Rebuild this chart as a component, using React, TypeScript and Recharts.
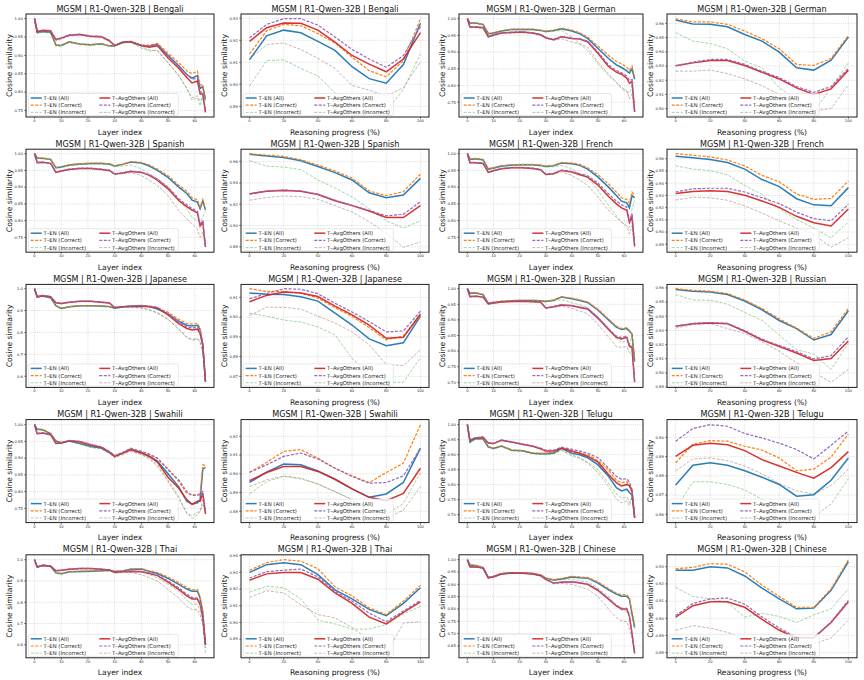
import React from 'react';
import { LineChart, Line, XAxis, YAxis, CartesianGrid } from 'recharts';

// ---- x positions ----
const LAYERS = [0, 1, 3, 6, 8, 10, 13, 17, 21, 25, 28, 30, 33, 36, 40, 43, 46, 50, 54, 57, 59, 61, 62, 63, 64];
const PROGRESS = [0, 10, 20, 30, 40, 50, 60, 70, 80, 90, 100];
const LAYER_TICKS = [0, 10, 20, 30, 40, 50, 60];
const PROGRESS_TICKS = [0, 20, 40, 60, 80, 100];

// Series order in every block: T-EN (All), T-EN (Correct), T-EN (Incorrect),
// T-AvgOthers (All), T-AvgOthers (Correct), T-AvgOthers (Incorrect)
const SERIES_NAMES = [
  'T–EN (All)', 'T–EN (Correct)', 'T–EN (Incorrect)',
  'T–AvgOthers (All)', 'T–AvgOthers (Correct)', 'T–AvgOthers (Incorrect)',
];

const LANGUAGES = ['Bengali', 'German', 'Spanish', 'French', 'Japanese', 'Russian', 'Swahili', 'Telugu', 'Thai', 'Chinese'];

// ---- Bengali ----
const BN_LAYER = [
  [1.0, .962, .965, .963, .928, .927, .937, .931, .929, .932, .926, .926, .935, .937, .927, .925, .93, .9, .872, .848, .838, .845, .81, .815, .78],
  [1.0, .963, .966, .964, .928, .927, .937, .931, .929, .932, .926, .926, .936, .937, .928, .928, .933, .906, .88, .858, .85, .857, .82, .82, .783],
  [1.0, .96, .963, .961, .925, .925, .935, .929, .927, .93, .924, .925, .934, .935, .92, .912, .915, .88, .845, .81, .778, .785, .763, .79, .775],
  [1.0, .965, .968, .967, .943, .947, .955, .957, .952, .951, .94, .927, .936, .938, .927, .922, .926, .893, .865, .84, .825, .83, .795, .795, .745],
  [1.0, .966, .969, .968, .944, .948, .956, .958, .953, .952, .941, .927, .937, .938, .928, .925, .93, .9, .87, .848, .835, .838, .8, .8, .75],
  [1.0, .963, .966, .964, .94, .944, .953, .955, .95, .948, .938, .926, .935, .936, .924, .915, .912, .88, .845, .81, .785, .79, .775, .785, .75],
];
const BN_PROG = [
  [.9112, .922, .9246, .9234, .9195, .9154, .908, .9026, .9005, .909, .9277],
  [.9138, .9243, .9272, .9266, .923, .9188, .9123, .9062, .9034, .9108, .9297],
  [.8992, .9108, .9111, .9072, .9038, .8962, .888, .8873, .8875, .8977, .9138],
  [.9195, .9257, .9278, .9277, .9246, .9192, .9131, .9092, .9057, .9115, .9235],
  [.9211, .9272, .9298, .9298, .9269, .9215, .9158, .9115, .9077, .9131, .9262],
  [.9115, .918, .9188, .9158, .9118, .9072, .8995, .8974, .8946, .8985, .9103],
];

// ---- German ----
const DE_LAYER = [
  [1.0, .987, .987, .983, .955, .957, .963, .968, .968, .968, .965, .962, .965, .97, .963, .955, .941, .911, .881, .862, .854, .844, .837, .85, .819],
  [1.0, .988, .988, .984, .956, .958, .964, .969, .969, .969, .966, .963, .966, .972, .966, .958, .945, .918, .89, .872, .865, .855, .845, .858, .825],
  [1.0, .985, .985, .981, .953, .955, .962, .967, .967, .967, .964, .96, .962, .965, .945, .925, .905, .865, .83, .81, .79, .78, .778, .8, .81],
  [1.0, .975, .975, .973, .946, .951, .957, .959, .96, .957, .952, .943, .937, .946, .941, .939, .931, .896, .857, .84, .834, .822, .807, .812, .721],
  [1.0, .976, .976, .974, .947, .952, .958, .96, .961, .958, .953, .944, .938, .947, .942, .94, .933, .9, .862, .845, .838, .828, .815, .818, .728],
  [1.0, .973, .973, .971, .944, .949, .955, .957, .958, .955, .95, .941, .935, .94, .93, .925, .915, .87, .835, .81, .795, .785, .76, .775, .72],
];
const DE_PROG = [
  [.9624, .9595, .9593, .9576, .9522, .9475, .9398, .9287, .9271, .9341, .9504],
  [.9633, .961, .961, .9593, .9546, .9492, .9421, .9311, .9304, .9353, .9515],
  [.9534, .9475, .9459, .9421, .9334, .9287, .9146, .9065, .8974, .915, .9322],
  [.9301, .9322, .9339, .9339, .9304, .9256, .9209, .9146, .9099, .9139, .9271],
  [.9302, .9327, .9346, .9346, .9311, .9263, .9218, .9155, .9114, .9155, .9285],
  [.9264, .9264, .9271, .9247, .9209, .9162, .9099, .9052, .8985, .9, .9169],
];

// ---- Spanish ----
const ES_LAYER = [
  [1.0, .987, .986, .983, .958, .96, .966, .969, .971, .971, .969, .963, .968, .975, .972, .963, .95, .929, .9, .881, .861, .855, .835, .859, .832],
  [1.0, .988, .987, .984, .959, .961, .967, .97, .972, .972, .97, .964, .969, .976, .974, .966, .954, .934, .906, .888, .868, .862, .84, .862, .835],
  [1.0, .985, .984, .981, .956, .958, .964, .967, .969, .969, .967, .961, .963, .966, .955, .94, .925, .9, .86, .835, .81, .8, .795, .81, .83],
  [1.0, .973, .974, .971, .944, .948, .953, .956, .956, .953, .95, .939, .942, .947, .944, .935, .921, .895, .86, .842, .831, .823, .784, .795, .721],
  [1.0, .974, .975, .972, .945, .949, .954, .957, .957, .954, .951, .94, .943, .948, .945, .937, .924, .9, .865, .847, .836, .828, .79, .8, .725],
  [1.0, .972, .973, .97, .943, .947, .952, .955, .955, .952, .948, .937, .94, .943, .935, .92, .905, .875, .83, .805, .79, .775, .75, .765, .72],
];
const ES_PROG = [
  [.9669, .9654, .9639, .9609, .9555, .9497, .9428, .9307, .9262, .9286, .9443],
  [.9675, .9662, .965, .9618, .9567, .9512, .9446, .9325, .928, .9318, .9482],
  [.9609, .9558, .9549, .9525, .9428, .9353, .9268, .9157, .9045, .8976, .9045],
  [.9298, .9322, .9329, .9322, .9292, .9232, .9187, .9136, .9075, .9075, .9187],
  [.9295, .9325, .9335, .9325, .9295, .9238, .919, .9142, .9091, .9105, .9225],
  [.9238, .9262, .9277, .9271, .9247, .9187, .9127, .9036, .893, .8795, .8846],
];

// ---- French ----
const FR_LAYER = [
  [1.0, .983, .985, .982, .954, .957, .963, .966, .967, .967, .965, .962, .964, .972, .97, .965, .954, .93, .9, .875, .858, .853, .838, .875, .868],
  [1.0, .984, .986, .983, .955, .958, .964, .967, .968, .968, .966, .963, .965, .974, .972, .968, .958, .937, .91, .885, .868, .863, .852, .885, .875],
  [1.0, .981, .983, .98, .952, .955, .961, .964, .965, .965, .963, .96, .961, .965, .955, .94, .93, .89, .845, .815, .795, .78, .78, .835, .86],
  [1.0, .973, .973, .971, .944, .949, .955, .958, .958, .956, .952, .938, .94, .95, .945, .937, .93, .906, .872, .85, .838, .831, .795, .81, .723],
  [1.0, .974, .974, .972, .945, .95, .956, .959, .959, .957, .953, .939, .941, .951, .947, .94, .934, .912, .88, .858, .847, .84, .8, .82, .73],
  [1.0, .972, .972, .97, .943, .948, .954, .957, .957, .955, .951, .937, .938, .946, .935, .92, .905, .87, .83, .81, .795, .785, .76, .785, .72],
];
const FR_PROG = [
  [.9621, .9608, .9595, .9569, .9516, .943, .9372, .9273, .9223, .9215, .9364],
  [.9642, .9629, .9616, .959, .9542, .9464, .9412, .9312, .9268, .9275, .9419],
  [.9542, .9516, .9503, .9469, .938, .9307, .9189, .9103, .9032, .8953, .9084],
  [.9315, .9333, .9338, .9333, .9302, .9254, .9202, .9129, .9076, .905, .9189],
  [.9328, .9354, .9359, .9359, .9328, .9281, .9233, .9163, .911, .9092, .9228],
  [.9262, .9286, .9281, .926, .9215, .9155, .9092, .9032, .898, .8875, .8953],
];

// ---- Japanese ----
const JA_LAYER = [
  [1.0, .963, .966, .959, .922, .91, .917, .922, .922, .921, .918, .911, .917, .918, .92, .918, .907, .885, .851, .833, .83, .833, .811, .744, .575],
  [1.0, .964, .967, .96, .923, .911, .918, .923, .923, .922, .919, .912, .918, .92, .923, .922, .912, .892, .86, .842, .838, .842, .82, .75, .58],
  [1.0, .962, .964, .957, .92, .908, .915, .92, .92, .918, .915, .91, .915, .915, .912, .905, .89, .86, .815, .775, .765, .77, .755, .71, .575],
  [1.0, .962, .969, .963, .936, .932, .938, .942, .942, .938, .935, .914, .917, .92, .922, .917, .912, .88, .84, .818, .811, .815, .795, .74, .575],
  [1.0, .963, .97, .964, .937, .933, .939, .943, .943, .939, .936, .915, .918, .921, .924, .92, .915, .885, .848, .825, .82, .823, .8, .745, .578],
  [1.0, .96, .967, .961, .934, .93, .936, .94, .94, .936, .933, .912, .914, .916, .912, .902, .888, .86, .815, .78, .768, .772, .755, .71, .572],
];
const JA_PROG = [
  [.9122, .9116, .9115, .9103, .9081, .902, .896, .889, .8855, .887, .9005],
  [.9144, .913, .913, .9122, .9096, .9048, .9004, .8947, .8885, .8905, .9007],
  [.902, .9005, .8985, .8975, .895, .891, .879, .8715, .867, .867, .8795],
  [.9078, .911, .9127, .9122, .9104, .9056, .9011, .8959, .8893, .8898, .9016],
  [.9093, .9119, .9144, .9141, .9119, .907, .9026, .8977, .8925, .893, .903],
  [.9008, .905, .905, .904, .9005, .897, .8925, .886, .876, .8755, .8835],
];

// ---- Russian ----
const RU_LAYER = [
  [1.0, .985, .987, .981, .953, .956, .959, .961, .962, .962, .961, .959, .963, .973, .968, .962, .956, .931, .9, .877, .869, .872, .864, .854, .767],
  [1.0, .986, .988, .982, .954, .957, .96, .962, .963, .963, .962, .96, .964, .974, .97, .964, .958, .934, .903, .88, .872, .875, .867, .856, .768],
  [1.0, .983, .985, .979, .951, .954, .957, .96, .961, .961, .96, .958, .96, .965, .955, .948, .94, .91, .875, .84, .828, .833, .82, .85, .765],
  [1.0, .974, .976, .973, .951, .954, .957, .959, .96, .958, .957, .938, .942, .948, .945, .94, .935, .905, .869, .844, .839, .844, .815, .811, .701],
  [1.0, .975, .977, .974, .952, .955, .958, .96, .961, .959, .958, .939, .943, .949, .946, .942, .937, .908, .872, .848, .843, .848, .818, .815, .703],
  [1.0, .973, .975, .972, .95, .953, .956, .958, .959, .957, .956, .937, .94, .944, .937, .928, .92, .885, .845, .815, .812, .815, .795, .79, .7],
];
const RU_PROG = [
  [.9589, .9577, .9572, .9554, .9508, .9446, .937, .9313, .9232, .9271, .9439],
  [.9595, .9584, .9577, .9561, .9515, .9455, .9382, .9317, .9244, .929, .9455],
  [.9554, .9515, .9513, .9485, .9428, .937, .9267, .9163, .9133, .9025, .9209],
  [.9329, .9347, .9352, .9347, .9294, .9232, .9186, .914, .9087, .9101, .9225],
  [.933, .935, .9356, .935, .9298, .9238, .9193, .915, .9098, .9122, .9255],
  [.9317, .934, .9347, .9313, .9278, .9221, .9152, .9071, .9002, .8933, .9025],
];

// ---- Swahili ----
const SW_LAYER = [
  [1.0, .986, .985, .973, .951, .946, .951, .944, .935, .93, .917, .906, .915, .927, .917, .906, .891, .853, .814, .771, .762, .766, .776, .867, .872],
  [1.0, .987, .986, .974, .952, .947, .952, .946, .937, .932, .92, .908, .917, .93, .92, .91, .9, .868, .83, .795, .79, .79, .795, .88, .878],
  [1.0, .985, .984, .972, .95, .945, .95, .942, .932, .927, .914, .903, .912, .923, .912, .9, .88, .835, .785, .735, .72, .73, .74, .76, .735],
  [1.0, .973, .975, .97, .944, .945, .952, .949, .94, .932, .918, .905, .915, .925, .915, .905, .888, .843, .81, .776, .762, .771, .771, .795, .733],
  [1.0, .974, .976, .971, .945, .946, .953, .95, .941, .934, .92, .907, .917, .928, .92, .912, .9, .865, .835, .8, .788, .79, .79, .8, .74],
  [1.0, .972, .974, .969, .943, .944, .951, .947, .938, .93, .915, .902, .91, .92, .91, .898, .875, .83, .78, .735, .728, .738, .74, .78, .735],
];
const SW_PROG = [
  [.8954, .9009, .9052, .9048, .9016, .8971, .892, .8875, .8893, .8954, .9137],
  [.9007, .9061, .912, .9129, .9084, .903, .8989, .8954, .9007, .9057, .9262],
  [.8893, .8959, .8986, .8973, .8946, .8905, .8861, .8807, .878, .8843, .9007],
  [.8964, .9007, .9039, .9039, .9013, .8971, .892, .8875, .8857, .8896, .903],
  [.9009, .9048, .9093, .9111, .9079, .903, .8986, .895, .8954, .8989, .9137],
  [.8932, .8968, .8989, .8977, .8946, .8905, .8864, .8816, .8763, .8807, .8932],
];

// ---- Telugu ----
const TE_LAYER = [
  [1.0, .942, .953, .953, .926, .921, .929, .915, .913, .905, .903, .903, .905, .921, .905, .9, .89, .866, .828, .79, .779, .785, .774, .765, .692],
  [1.0, .944, .955, .955, .928, .922, .93, .916, .914, .906, .905, .905, .908, .924, .91, .905, .9, .88, .848, .815, .807, .81, .798, .77, .695],
  [1.0, .94, .951, .951, .924, .919, .927, .913, .911, .903, .901, .9, .903, .915, .895, .888, .872, .84, .795, .752, .74, .745, .73, .76, .69],
  [1.0, .948, .956, .958, .939, .937, .948, .942, .935, .928, .92, .912, .912, .922, .912, .905, .895, .875, .834, .807, .796, .801, .796, .78, .689],
  [1.0, .949, .957, .959, .94, .938, .949, .943, .936, .929, .922, .915, .915, .925, .918, .912, .905, .89, .855, .828, .818, .82, .808, .785, .692],
  [1.0, .947, .955, .957, .938, .936, .947, .941, .934, .927, .918, .908, .908, .915, .9, .89, .875, .85, .805, .77, .755, .76, .74, .76, .688],
];
const TE_PROG = [
  [.8752, .8855, .8868, .8855, .8826, .8793, .8755, .8694, .8702, .8777, .8893],
  [.8868, .8964, .8983, .898, .8954, .8934, .8893, .8826, .8835, .8898, .9017],
  [.8628, .8769, .8769, .8755, .8727, .8678, .8628, .8579, .8587, .8653, .8785],
  [.8901, .8959, .897, .8962, .8931, .8884, .8851, .8818, .8788, .8843, .8926],
  [.898, .9046, .9066, .9058, .902, .8997, .897, .8937, .8888, .8959, .9033],
  [.8826, .8888, .8893, .8879, .8851, .881, .876, .8722, .8706, .8749, .8835],
];

// ---- Thai ----
const TH_LAYER = [
  [1.0, .966, .974, .969, .938, .934, .943, .945, .946, .948, .95, .945, .947, .955, .956, .945, .935, .912, .884, .862, .852, .852, .82, .75, .6],
  [1.0, .967, .975, .97, .939, .935, .944, .946, .947, .949, .951, .946, .948, .957, .958, .948, .94, .918, .892, .87, .858, .86, .825, .76, .6],
  [1.0, .964, .972, .967, .935, .932, .94, .942, .943, .945, .947, .941, .943, .95, .945, .93, .915, .885, .85, .81, .79, .79, .76, .7, .56],
  [1.0, .965, .973, .97, .948, .95, .955, .958, .958, .955, .952, .94, .943, .945, .943, .935, .925, .895, .86, .83, .815, .815, .79, .73, .6],
  [1.0, .966, .974, .971, .949, .951, .956, .959, .959, .956, .953, .941, .944, .947, .945, .938, .928, .9, .868, .838, .822, .82, .795, .73, .6],
  [1.0, .963, .971, .968, .946, .948, .953, .956, .956, .953, .95, .937, .94, .94, .93, .915, .9, .86, .82, .78, .765, .765, .74, .7, .585],
];
const TH_PROG = [
  [.93, .9346, .9358, .9346, .9286, .9195, .9141, .9078, .9041, .9114, .9208],
  [.9313, .9358, .9376, .9367, .9322, .9213, .9159, .9087, .9047, .9128, .9222],
  [.9181, .9217, .9208, .9141, .9014, .8991, .896, .896, .8987, .905, .9096],
  [.9253, .9291, .9299, .9299, .9259, .9177, .9114, .9032, .8991, .906, .9123],
  [.9266, .9304, .9313, .932, .9273, .9186, .9128, .9056, .9005, .9068, .9132],
  [.915, .919, .9177, .9105, .9047, .9027, .8969, .8896, .8815, .8996, .9005],
];

// ---- Chinese ----
const ZH_LAYER = [
  [1.0, .978, .976, .968, .928, .932, .943, .947, .947, .944, .938, .925, .918, .922, .93, .927, .925, .905, .878, .86, .852, .852, .84, .78, .725],
  [1.0, .979, .977, .969, .929, .933, .944, .948, .948, .945, .939, .926, .919, .924, .933, .93, .928, .91, .883, .865, .858, .858, .845, .79, .73],
  [1.0, .976, .974, .966, .926, .93, .941, .945, .945, .942, .936, .922, .915, .918, .922, .915, .91, .885, .85, .815, .795, .79, .785, .78, .72],
  [1.0, .97, .971, .966, .926, .93, .942, .946, .945, .942, .935, .92, .905, .908, .91, .905, .9, .875, .84, .812, .8, .8, .77, .7, .62],
  [1.0, .971, .972, .967, .927, .931, .943, .947, .946, .943, .936, .921, .906, .909, .912, .907, .902, .878, .843, .815, .803, .803, .772, .7, .62],
  [1.0, .969, .97, .965, .925, .929, .941, .945, .944, .941, .933, .918, .902, .904, .9, .89, .88, .85, .8, .765, .752, .748, .72, .68, .62],
];
const ZH_PROG = [
  [.9279, .9279, .93, .9293, .9246, .9175, .9113, .9055, .9059, .9163, .9329],
  [.9288, .9296, .9318, .9314, .927, .9193, .9127, .9064, .9064, .9171, .9341],
  [.918, .9127, .9114, .9091, .9007, .9029, .9011, .8975, .902, .9055, .9171],
  [.9007, .9073, .9096, .9096, .9064, .8993, .893, .8886, .8886, .8975, .9096],
  [.9016, .9086, .9113, .9118, .9082, .9007, .8943, .8889, .8889, .8979, .9104],
  [.893, .8957, .8943, .8918, .8882, .8854, .8823, .8796, .885, .8886, .8989],
];

// y tick values for each language (layer panel, progress panel)
const LAYER_YTICKS = [
  [0.75, 0.8, 0.85, 0.9, 0.95, 1.0],
  [0.75, 0.8, 0.85, 0.9, 0.95, 1.0],
  [0.75, 0.8, 0.85, 0.9, 0.95, 1.0],
  [0.75, 0.8, 0.85, 0.9, 0.95, 1.0],
  [0.6, 0.7, 0.8, 0.9, 1.0],
  [0.7, 0.75, 0.8, 0.85, 0.9, 0.95, 1.0],
  [0.75, 0.8, 0.85, 0.9, 0.95, 1.0],
  [0.7, 0.75, 0.8, 0.85, 0.9, 0.95, 1.0],
  [0.6, 0.7, 0.8, 0.9, 1.0],
  [0.65, 0.7, 0.75, 0.8, 0.85, 0.9, 0.95, 1.0],
];
const PROG_YTICKS = [
  [0.89, 0.9, 0.91, 0.92, 0.93],
  [0.9, 0.91, 0.92, 0.93, 0.94, 0.95, 0.96],
  [0.88, 0.9, 0.92, 0.94, 0.96],
  [0.89, 0.9, 0.91, 0.92, 0.93, 0.94, 0.95, 0.96],
  [0.87, 0.88, 0.89, 0.9, 0.91],
  [0.89, 0.9, 0.91, 0.92, 0.93, 0.94, 0.95, 0.96],
  [0.88, 0.89, 0.9, 0.91, 0.92],
  [0.86, 0.87, 0.88, 0.89, 0.9],
  [0.89, 0.9, 0.91, 0.92, 0.93, 0.94],
  [0.88, 0.89, 0.9, 0.91, 0.92, 0.93],
];

const LAYER_DATA = [BN_LAYER, DE_LAYER, ES_LAYER, FR_LAYER, JA_LAYER, RU_LAYER, SW_LAYER, TE_LAYER, TH_LAYER, ZH_LAYER];
const PROG_DATA = [BN_PROG, DE_PROG, ES_PROG, FR_PROG, JA_PROG, RU_PROG, SW_PROG, TE_PROG, TH_PROG, ZH_PROG];

// ---- styling / layout ----
const FONT = '"DejaVu Sans", Verdana, sans-serif';
const STYLES = [
  { color: '#1f77b4', width: 1.5, dash: undefined, opacity: 0.95 },
  { color: '#ff7f0e', width: 1.2, dash: '3 1.5', opacity: 1 },
  { color: '#2ca02c', width: 0.8, dash: '3 1.5', opacity: 0.55 },
  { color: '#d62728', width: 1.5, dash: undefined, opacity: 0.95 },
  { color: '#9467bd', width: 1.2, dash: '3 1.5', opacity: 1 },
  { color: '#8c564b', width: 0.8, dash: '3 1.5', opacity: 0.55 },
];
const COL_LEFT = [26, 241, 459, 667];
const COL_W = [188, 188, 184, 190];
const ROW_TOP0 = 14;
const ROW_STEP = 135.2;
const FRAME_H = 103;
const Y_AXIS_W = 30;
const TOP_PAD = 4;
const RIGHT_PAD = 4;
const X_AXIS_H = 12;

function paddedDomain(rows: number[][]): [number, number] {
  const all = rows.flat();
  const lo = Math.min(...all);
  const hi = Math.max(...all);
  const pad = (hi - lo) * 0.05;
  return [lo - pad, hi + pad];
}

function buildRows(xs: number[], rows: number[][]) {
  return xs.map((x, i) => {
    const r: Record<string, number> = { x };
    rows.forEach((s, j) => { r['s' + j] = s[i]; });
    return r;
  });
}

type PanelSpec = {
  key: string;
  title: string;
  xLabel: string;
  left: number;
  top: number;
  w: number;
  h: number;
  xs: number[];
  rows: number[][];
  xDomain: [number, number];
  xTicks: number[];
  yTicks: number[];
  decimals: number;
};

function buildPanels(): PanelSpec[] {
  const out: PanelSpec[] = [];
  LANGUAGES.forEach((lang, i) => {
    const row = Math.floor(i / 2);
    const c0 = (i % 2) * 2;
    const top = ROW_TOP0 + row * ROW_STEP;
    const title = `MGSM | R1-Qwen-32B | ${lang}`;
    const ly = LAYER_YTICKS[i];
    out.push({
      key: lang + '-layer', title, xLabel: 'Layer index',
      left: COL_LEFT[c0], top, w: COL_W[c0], h: FRAME_H,
      xs: LAYERS, rows: LAYER_DATA[i], xDomain: [-3.2, 67.2], xTicks: LAYER_TICKS,
      yTicks: ly, decimals: Math.abs(ly[1] - ly[0] - 0.1) < 1e-6 ? 1 : 2,
    });
    out.push({
      key: lang + '-prog', title, xLabel: 'Reasoning progress (%)',
      left: COL_LEFT[c0 + 1], top, w: COL_W[c0 + 1], h: FRAME_H,
      xs: PROGRESS, rows: PROG_DATA[i], xDomain: [-5, 105], xTicks: PROGRESS_TICKS,
      yTicks: PROG_YTICKS[i], decimals: 2,
    });
  });
  return out;
}

const PANELS = buildPanels();

const tickStyle = { fontSize: 3.7, fill: '#222', fontFamily: FONT };

function ChartPanel({ p }: { p: PanelSpec }) {
  const [lo, hi] = paddedDomain(p.rows);
  const data = buildRows(p.xs, p.rows);
  const yt = p.yTicks.filter((t) => t >= lo - 1e-9 && t <= hi + 1e-9);
  return (
    <div style={{ position: 'absolute', left: p.left - Y_AXIS_W, top: p.top - TOP_PAD }}>
      <LineChart
        width={p.w + Y_AXIS_W + RIGHT_PAD}
        height={p.h + TOP_PAD + X_AXIS_H}
        data={data}
        margin={{ top: TOP_PAD, right: RIGHT_PAD, bottom: 0, left: 0 }}
      >
        <CartesianGrid stroke="#b8b8b8" strokeWidth={0.5} strokeDasharray="1 1.2" />
        <XAxis
          type="number" dataKey="x" domain={p.xDomain} ticks={p.xTicks} allowDataOverflow interval={0}
          axisLine={false} tickSize={2} tickMargin={0.5} height={X_AXIS_H}
          tickLine={{ stroke: '#222', strokeWidth: 0.5 }} tick={tickStyle}
        />
        <YAxis
          type="number" domain={[lo, hi]} ticks={yt} allowDataOverflow interval={0}
          axisLine={false} tickSize={2} tickMargin={1.2} width={Y_AXIS_W}
          tickLine={{ stroke: '#222', strokeWidth: 0.5 }} tick={tickStyle}
          tickFormatter={(v: number) => v.toFixed(p.decimals)}
        />
        {STYLES.map((s, j) => (
          <Line
            key={j} dataKey={'s' + j} name={SERIES_NAMES[j]} type="linear"
            stroke={s.color} strokeWidth={s.width} strokeDasharray={s.dash} strokeOpacity={s.opacity}
            dot={false} activeDot={false} isAnimationActive={false}
          />
        ))}
      </LineChart>
    </div>
  );
}

function LegendBox({ x, y }: { x: number; y: number }) {
  const bw = 150;
  const bh = 22;
  return (
    <g transform={`translate(${x},${y})`}>
      <rect x={0} y={0} width={bw} height={bh} rx={1.5} fill="#fff" fillOpacity={0.8} stroke="#d0d0d0" strokeWidth={0.5} />
      {SERIES_NAMES.map((name, j) => {
        const col = Math.floor(j / 3);
        const row = j % 3;
        const s = STYLES[j];
        const cx = 2.4 + col * 68.6;
        const cy = 4.5 + row * 7.2;
        return (
          <g key={name}>
            <line x1={cx} x2={cx + 11} y1={cy} y2={cy} stroke={s.color} strokeWidth={s.width}
              strokeDasharray={s.dash} strokeOpacity={s.opacity} />
            <text x={cx + 12.8} y={cy} dominantBaseline="central" fontSize={5.3} fontFamily={FONT} fill="#222">{name}</text>
          </g>
        );
      })}
    </g>
  );
}

function Overlay() {
  return (
    <svg width={864} height={680} style={{ position: 'absolute', left: 0, top: 0, pointerEvents: 'none' }}>
      {PANELS.map((p) => (
        <g key={p.key}>
          <rect x={p.left} y={p.top} width={p.w} height={p.h} fill="none" stroke="#111" strokeWidth={0.9} />
          <LegendBox x={p.left + 2.3} y={p.top + p.h - 23.5} />
          <text x={p.left + p.w / 2} y={p.top - 2.4} textAnchor="middle" fontSize={8.1} fontFamily={FONT} fill="#111">{p.title}</text>
          <text x={p.left + p.w / 2} y={p.top + p.h + 17.5} textAnchor="middle" fontSize={7.6} fontFamily={FONT} fill="#111">{p.xLabel}</text>
          <text
            x={0} y={0} textAnchor="middle" dominantBaseline="central" fontSize={7.6} fontFamily={FONT} fill="#111"
            transform={`translate(${p.left - 16.5},${p.top + p.h / 2}) rotate(-90)`}
          >Cosine similarity</text>
        </g>
      ))}
    </svg>
  );
}

export default function App() {
  return (
    <div style={{ position: 'absolute', left: 0, top: 0, width: 864, height: 680, background: '#fff', overflow: 'hidden' }}>
      {PANELS.map((p) => <ChartPanel key={p.key} p={p} />)}
      <Overlay />
    </div>
  );
}
